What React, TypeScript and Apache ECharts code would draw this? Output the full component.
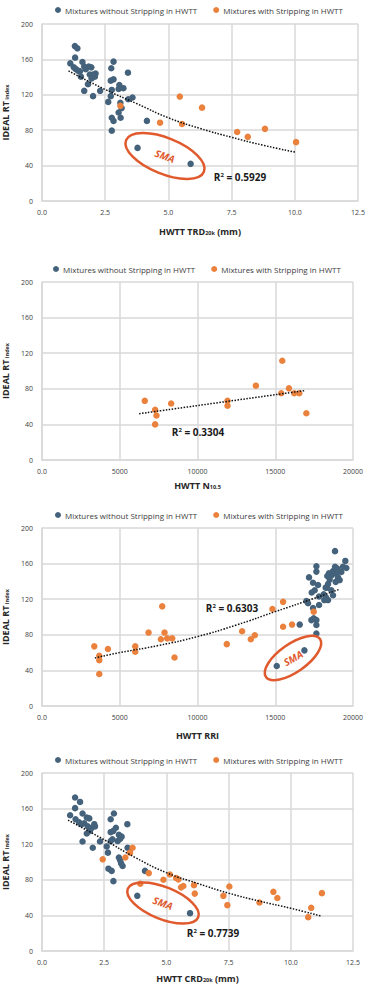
import React, { useEffect, useRef } from 'react';
import * as echarts from 'echarts';

const NAME_WITHOUT = 'Mixtures without Stripping in HWTT';
const NAME_WITH = 'Mixtures with Stripping in HWTT';

const BLUE = '#44627B';
const ORANGE = '#EA813D';
const SMA_RED = '#E05A2E';
const FONT = '"Open Sans", "Noto Sans", sans-serif';

// Chart 1: HWTT TRD20k (mm) vs IDEAL RT index
const trdBlue: number[][] = [
  [1.30, 175], [1.40, 172.5], [1.31, 162], [1.60, 157], [1.12, 155.5], [1.26, 151], [1.34, 149],
  [1.44, 147], [1.67, 152], [1.85, 152], [1.73, 149], [1.54, 140.5], [1.89, 143], [2.02, 143],
  [2.09, 140.5], [1.96, 138.5], [1.82, 132], [1.67, 124.5], [2.02, 118.5], [2.30, 124.5],
  [2.12, 144], [1.50, 146.5], [1.95, 151],
  [2.83, 157.5], [2.74, 150], [3.40, 145], [2.72, 136], [2.83, 137.5], [3.06, 131], [3.03, 126.5],
  [3.22, 127.5], [2.76, 125.5], [2.72, 118.5], [2.62, 112], [3.41, 115], [3.58, 117], [3.10, 111],
  [3.15, 105], [3.03, 100], [2.76, 94], [2.83, 90.5], [3.11, 94], [2.76, 79.5], [4.15, 90.5],
  [3.78, 60], [5.88, 42],
];
const trdOrange: number[][] = [
  [3.10, 107.5], [4.67, 88.5], [5.45, 118], [5.54, 87], [6.33, 105.5], [7.72, 78], [8.14, 72.5],
  [8.82, 81.5], [10.05, 66.5],
];
const trdTrend: number[][] = [
  [1.05, 147], [2.5, 126], [3.75, 110], [5, 94], [6.25, 82], [7.5, 72], [8.75, 63], [10.05, 55],
];

// Chart 2: HWTT N10.5
const nBlue: number[][] = [];
const nOrange: number[][] = [
  [6609, 66.5], [7275, 56.5], [7361, 50], [7275, 40], [8305, 63.5], [11931, 66.5], [11931, 61],
  [13755, 83.5], [15451, 111.5], [15386, 75], [15880, 80.5], [16223, 75], [16545, 75], [17000, 52.5],
];
const nTrend: number[][] = [[6250, 52], [16900, 78]];

// Chart 3: HWTT RRI
const rriBlue: number[][] = [
  [15096, 45], [16874, 62.5], [16574, 91.5],
  [18844, 174], [19507, 163], [19572, 155], [17645, 157], [17645, 151], [17173, 144.5],
  [17430, 138.5], [17537, 130], [17345, 127.5], [17002, 118], [17109, 115.5], [17752, 136],
  [17816, 123], [17816, 113.5], [17430, 110], [17473, 98.5], [17323, 96.5], [17645, 96.5],
  [17645, 91], [17645, 81.5], [18116, 125.5], [18244, 133], [18394, 137], [18501, 142],
  [18630, 147], [18715, 151.5], [18844, 156.5], [18929, 149], [19036, 144.5], [19143, 141.5],
  [19250, 150.5], [18608, 130], [18715, 124.5], [18394, 119], [18887, 139.5], [19358, 156.5],
  [18990, 154.5], [18454, 149], [18347, 146], [18326, 133], [18261, 122], [18154, 119],
];
const rriOrange: number[][] = [
  [3362, 67], [3683, 56.5], [3683, 51.5], [3683, 36], [4240, 64], [5996, 67], [5996, 61],
  [6852, 82.5], [7730, 112], [7645, 75], [7880, 82.5], [8051, 76], [8373, 76], [8522, 54.5],
  [11884, 69.5], [12869, 84], [13426, 75], [13683, 79.5], [14818, 109], [15503, 117],
  [15503, 89], [16081, 91.5], [17473, 106],
];
const rriTrend: number[][] = [
  [3400, 54], [5000, 60], [7500, 68], [10000, 78], [12500, 91], [15000, 106], [17500, 121], [19100, 131],
];

// Chart 4: HWTT CRD20k (mm)
const crdBlue: number[][] = [
  [1.33, 172.5], [1.53, 167.5], [1.33, 160.5], [1.63, 154.5], [1.13, 152.5], [1.35, 148],
  [1.80, 150], [1.90, 149], [1.49, 144.5], [1.59, 142.5], [1.70, 143.5], [2.10, 142.5], [2.13, 140],
  [1.84, 140], [1.93, 135], [1.98, 138], [1.80, 132], [2.33, 123], [1.63, 123], [2.04, 116],
  [2.89, 154.5], [2.76, 148], [3.43, 142.5], [2.97, 138.5], [2.87, 135], [3.09, 130.5],
  [3.20, 128.5], [2.76, 133.5], [2.83, 125.5], [2.76, 123.5], [3.04, 123.5], [3.14, 126],
  [2.60, 117.5], [2.65, 110.5], [3.44, 116], [3.09, 105], [3.14, 102], [3.18, 98.5], [3.24, 95.5],
  [2.67, 92.5], [2.80, 90], [2.87, 78.5], [4.14, 90], [3.83, 62], [5.95, 42.5],
];
const crdOrange: number[][] = [
  [2.44, 103], [3.35, 105], [3.54, 110.5], [3.64, 116], [4.29, 87.5], [3.95, 75.5], [4.88, 80],
  [5.14, 86], [5.39, 82], [5.48, 80.5], [5.59, 71.5], [5.68, 73], [6.11, 74], [6.14, 64.5],
  [7.29, 62], [7.53, 72.5], [7.45, 51.5], [8.74, 54.5], [9.30, 66.5], [9.46, 59.5], [10.70, 38],
  [10.82, 48.5], [11.25, 65],
];
const crdTrend: number[][] = [
  [1.05, 147], [2.5, 125], [3.75, 105], [5, 88], [6.25, 76], [7.5, 65], [8.75, 56], [10, 48], [11.25, 39],
];

const yTicks = { min: 0, max: 200, interval: 40 };
const mmTicks = { min: 0, max: 12.5, interval: 2.5 };
const countTicks = { min: 0, max: 20000, interval: 5000 };

const rSquared = ['0.5929', '0.3304', '0.6303', '0.7739'];
const xNames = [
  '{a|HWTT TRD}{b|20k}{a| (mm)}',
  '{a|HWTT N}{b|10.5}',
  '{a|HWTT RRI}',
  '{a|HWTT CRD}{b|20k}{a| (mm)}',
];

const grids = [
  { left: 42, top: 24, width: 316, height: 177 },
  { left: 42, top: 282, width: 311, height: 178 },
  { left: 42, top: 528, width: 311, height: 178 },
  { left: 42, top: 773, width: 311, height: 178 },
];
const legendTops = [6, 265, 511, 756];
const legendLefts = [55, 53, 55, 55];
const xNameGaps = [25, 20, 25, 22];

const gridLine = { lineStyle: { color: '#D9D9D9', width: 1.5 } };
const labelStyle = { fontSize: 7, color: '#404040', fontFamily: FONT };

function fmtMm(v: number) {
  return v.toFixed(1);
}
function fmtCount(v: number) {
  return v === 0 ? '0.0' : String(v);
}

function makeX(i: number, ticks: any, fmt: (v: number) => string) {
  return {
    type: 'value',
    gridIndex: i,
    ...ticks,
    name: xNames[i],
    nameLocation: 'middle',
    nameGap: xNameGaps[i],
    nameTextStyle: {
      rich: {
        a: { fontSize: 9, fontWeight: 'bold', color: '#262626', fontFamily: FONT },
        b: { fontSize: 5.5, fontWeight: 'bold', color: '#262626', fontFamily: FONT, verticalAlign: 'bottom', padding: [4, 0, 0, 0] },
      },
    },
    axisLine: { show: true, ...gridLine },
    axisTick: { show: false },
    splitLine: { show: true, ...gridLine },
    axisLabel: { ...labelStyle, margin: 8, formatter: fmt, showMaxLabel: true, showMinLabel: true },
  };
}
function makeY(i: number) {
  return {
    type: 'value',
    gridIndex: i,
    ...yTicks,
    name: '{a|IDEAL RT}{b| index}',
    nameLocation: 'middle',
    nameRotate: 90,
    nameGap: 26,
    nameTextStyle: {
      rich: {
        a: { fontSize: 9, fontWeight: 'bold', color: '#262626', fontFamily: FONT },
        b: { fontSize: 5.5, fontWeight: 'bold', color: '#262626', fontFamily: FONT, verticalAlign: 'bottom', padding: [4, 0, 0, 0] },
      },
    },
    axisLine: { show: true, ...gridLine },
    axisTick: { show: false },
    splitLine: { show: true, ...gridLine },
    axisLabel: { ...labelStyle, margin: 9 },
  };
}

const blues = [trdBlue, nBlue, rriBlue, crdBlue];
const oranges = [trdOrange, nOrange, rriOrange, crdOrange];
const trends = [trdTrend, nTrend, rriTrend, crdTrend];
const rPos = [[240, 177], [198, 432], [232, 608], [213, 933]];

function smaMark(cx: number, cy: number, rx: number, ry: number, rotDeg: number, textRotDeg: number) {
  return [
    {
      type: 'ellipse',
      x: cx,
      y: cy,
      rotation: (rotDeg * Math.PI) / 180,
      shape: { cx: 0, cy: 0, rx, ry },
      style: { fill: 'none', stroke: SMA_RED, lineWidth: 2.5 },
      z: 100,
    },
    {
      type: 'text',
      x: cx,
      y: cy,
      rotation: (textRotDeg * Math.PI) / 180,
      style: {
        text: 'SMA',
        x: 0,
        y: 0,
        align: 'center',
        verticalAlign: 'middle',
        font: 'italic bold 10px "Open Sans", sans-serif',
        fill: SMA_RED,
      },
      z: 100,
    },
  ];
}

export default function App() {
  const ref = useRef<HTMLDivElement>(null);
  useEffect(() => {
    const chart = echarts.init(ref.current!, null, { renderer: 'svg' });
    const series: any[] = [];
    for (let i = 0; i < 4; i++) {
      series.push({
        type: 'scatter',
        name: NAME_WITHOUT,
        xAxisIndex: i,
        yAxisIndex: i,
        data: blues[i],
        symbolSize: 6.5,
        itemStyle: { color: BLUE, opacity: 1 },
      });
      series.push({
        type: 'scatter',
        name: NAME_WITH,
        xAxisIndex: i,
        yAxisIndex: i,
        data: oranges[i],
        symbolSize: 6.5,
        itemStyle: { color: ORANGE, opacity: 1 },
      });
      series.push({
        type: 'line',
        name: 'trend' + i,
        xAxisIndex: i,
        yAxisIndex: i,
        data: trends[i],
        smooth: true,
        showSymbol: false,
        silent: true,
        z: 5,
        lineStyle: { type: 'dotted', width: 1.5, color: '#111' },
      });
    }
    const graphics: any[] = [];
    rPos.forEach((p, i) => {
      graphics.push({
        type: 'text',
        x: p[0],
        y: p[1],
        style: {
          text: '{r|R}{s|2}{r| = ' + rSquared[i] + '}',
          x: 0,
          y: 0,
          align: 'center',
          verticalAlign: 'middle',
          rich: {
            r: { fontSize: 10, fontWeight: 'bold', fill: '#1A1A1A', fontFamily: FONT },
            s: { fontSize: 6, fontWeight: 'bold', fill: '#1A1A1A', fontFamily: FONT, verticalAlign: 'top' },
          },
        },
        z: 100,
      });
    });
    graphics.push(...smaMark(165, 156, 42, 18, -22, -20));
    graphics.push(...smaMark(293, 658, 33, 14, 35, 30));
    graphics.push(...smaMark(163, 903, 38, 16, -22, -20));

    chart.setOption({
      animation: false,
      backgroundColor: '#fff',
      textStyle: { fontFamily: FONT },
      grid: grids.map((g) => ({ ...g, containLabel: false, outerBoundsMode: 'none' })),
      legend: legendTops.map((t, i) => ({
        top: t,
        left: legendLefts[i],
        width: 314,
        orient: 'horizontal',
        data: [NAME_WITHOUT, NAME_WITH],
        icon: 'circle',
        itemWidth: 6,
        itemHeight: 6,
        itemGap: 16,
        padding: 0,
        textStyle: { fontSize: 8, color: '#404040', fontFamily: FONT, padding: [0, 0, 0, -1] },
      })),
      xAxis: [makeX(0, mmTicks, fmtMm), makeX(1, countTicks, fmtCount), makeX(2, countTicks, fmtCount), makeX(3, mmTicks, fmtMm)],
      yAxis: [makeY(0), makeY(1), makeY(2), makeY(3)],
      series,
      graphic: graphics,
    });
    return () => chart.dispose();
  }, []);
  return (
    <div
      ref={ref}
      style={{ position: 'absolute', left: 0, top: 0, width: 370, height: 987, background: '#fff' }}
    />
  );
}
